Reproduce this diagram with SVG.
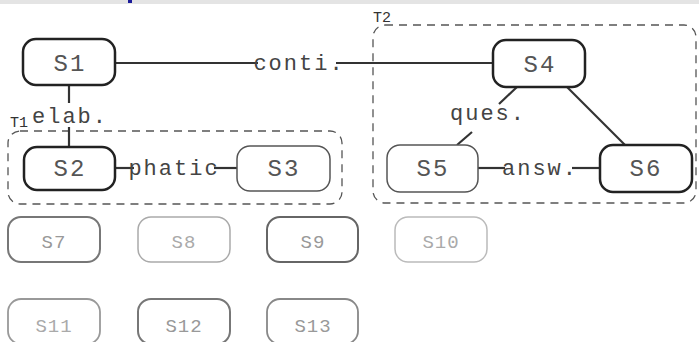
<svg xmlns="http://www.w3.org/2000/svg" width="699" height="342" viewBox="0 0 699 342">
<style>
.bg{fill:#ffffff}
.node rect{fill:#ffffff}
.bold{stroke:#222;stroke-width:2.5}
.thin{stroke:#555;stroke-width:1.5}
.lbl{font-family:"Liberation Mono","Courier New",monospace;font-size:24px;letter-spacing:2px;fill:#555;text-anchor:middle}
.small{font-family:"Liberation Mono","Courier New",monospace;font-size:19px;letter-spacing:1px;text-anchor:middle}
.elbl{font-family:"Liberation Mono","Courier New",monospace;font-size:22px;letter-spacing:2px;fill:#444;text-anchor:middle}
.tlbl{font-family:"Liberation Mono","Courier New",monospace;font-size:15px;fill:#333}
.grp{fill:none;stroke:#555;stroke-width:1.3;stroke-dasharray:8 6}
.edges line{stroke:#333;stroke-width:2.2}
</style>
<rect class="bg" x="0" y="0" width="699" height="342"/>
<rect x="0" y="0" width="699" height="4" fill="#e4e4e4"/>
<rect x="128" y="0" width="4" height="3" fill="#1a1a9a"/>

<g id="T1">
  <rect class="grp" x="8" y="131" width="334" height="73" rx="12"/>
  <text class="tlbl" x="10" y="127">T1</text>
</g>
<g id="T2">
  <rect class="grp" x="373" y="25" width="323" height="178" rx="12"/>
  <text class="tlbl" x="373" y="22">T2</text>
</g>

<g class="edges" id="connectors">
  <line x1="115" y1="63" x2="258" y2="63"/>
  <line x1="336" y1="63" x2="493" y2="63"/>
  <line x1="69" y1="85" x2="69" y2="103"/>
  <line x1="69" y1="127" x2="69" y2="147"/>
  <line x1="115" y1="168" x2="134" y2="168"/>
  <line x1="214" y1="168" x2="237" y2="168"/>
  <line x1="517" y1="87" x2="499" y2="104"/>
  <line x1="472" y1="132" x2="457" y2="145"/>
  <line x1="567" y1="87" x2="625" y2="145"/>
  <line x1="478" y1="168" x2="505" y2="168"/>
  <line x1="572" y1="168" x2="600" y2="168"/>
  <text class="elbl" x="299" y="70">conti.</text>
  <text class="elbl" x="70" y="123">elab.</text>
  <text class="elbl" x="174" y="175">phatic</text>
  <text class="elbl" x="488" y="120">ques.</text>
  <text class="elbl" x="540" y="175">answ.</text>
</g>

<g id="S1" class="node"><rect class="bold" x="23" y="39" width="92" height="46" rx="13"/><text class="lbl" x="70" y="71">S1</text></g>
<g id="S2" class="node"><rect class="bold" x="24" y="147" width="91" height="43" rx="13"/><text class="lbl" x="70" y="176">S2</text></g>
<g id="S3" class="node"><rect class="thin" x="237" y="146" width="93" height="45" rx="13"/><text class="lbl" x="284" y="176">S3</text></g>
<g id="S4" class="node"><rect class="bold" x="493" y="40" width="92" height="47" rx="13"/><text class="lbl" x="540" y="72">S4</text></g>
<g id="S5" class="node"><rect class="thin" x="387" y="145" width="91" height="47" rx="13"/><text class="lbl" x="433" y="176">S5</text></g>
<g id="S6" class="node"><rect class="bold" x="600" y="145" width="92" height="47" rx="13"/><text class="lbl" x="646" y="176">S6</text></g>

<g id="S7" class="node"><rect x="8" y="217" width="92" height="45" rx="13" stroke="#777" stroke-width="2"/><text class="small" x="54" y="248" fill="#999">S7</text></g>
<g id="S8" class="node"><rect x="138" y="217" width="92" height="45" rx="13" stroke="#aaa" stroke-width="1.5"/><text class="small" x="184" y="248" fill="#aaa">S8</text></g>
<g id="S9" class="node"><rect x="267" y="217" width="91" height="45" rx="13" stroke="#666" stroke-width="2"/><text class="small" x="313" y="248" fill="#999">S9</text></g>
<g id="S10" class="node"><rect x="395" y="217" width="92" height="45" rx="13" stroke="#bbb" stroke-width="1.5"/><text class="small" x="441" y="248" fill="#aaa">S10</text></g>
<g id="S11" class="node"><rect x="8" y="299" width="92" height="45" rx="13" stroke="#999" stroke-width="1.8"/><text class="small" x="54" y="332" fill="#aaa">S11</text></g>
<g id="S12" class="node"><rect x="138" y="299" width="92" height="45" rx="13" stroke="#777" stroke-width="2"/><text class="small" x="184" y="332" fill="#999">S12</text></g>
<g id="S13" class="node"><rect x="267" y="299" width="91" height="45" rx="13" stroke="#888" stroke-width="1.8"/><text class="small" x="313" y="332" fill="#999">S13</text></g>
</svg>
